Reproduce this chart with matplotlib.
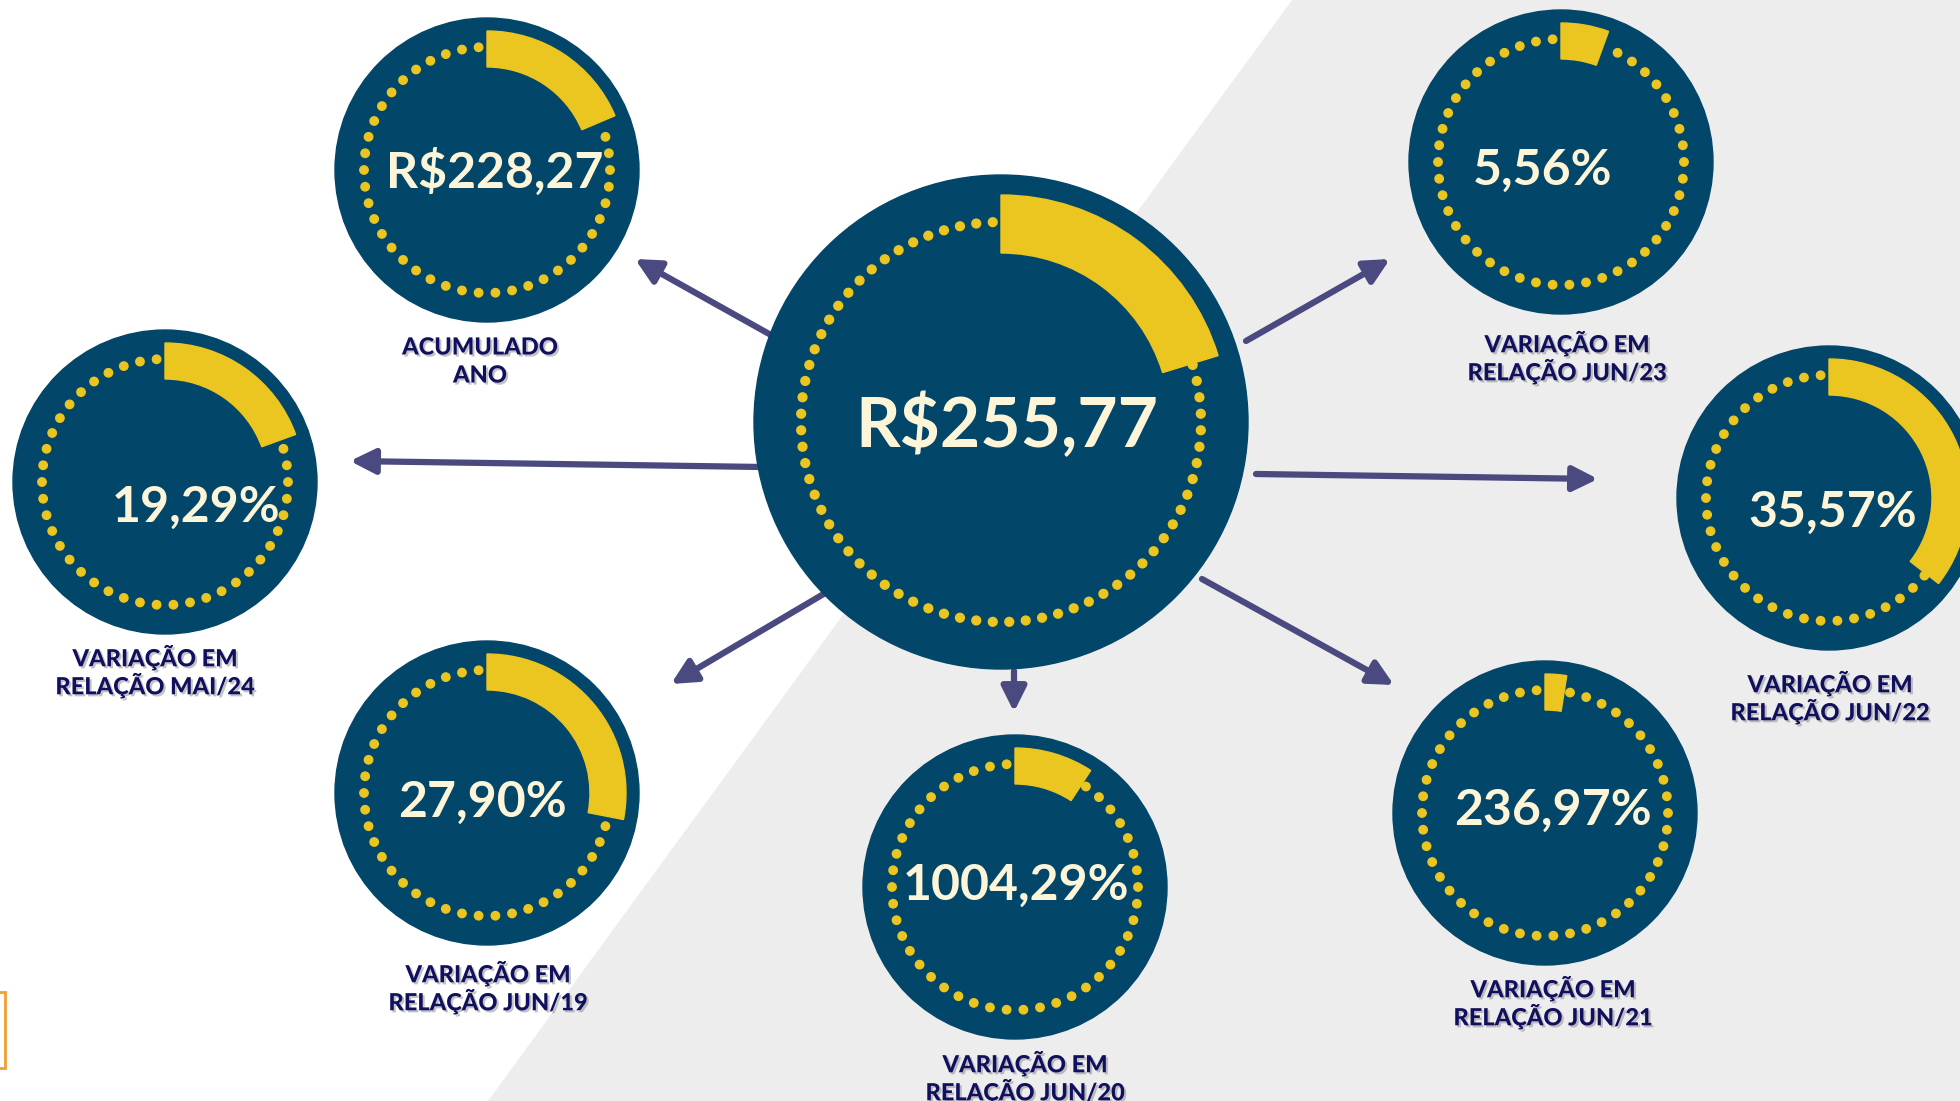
import numpy as np
import matplotlib.pyplot as plt
from matplotlib.patches import Circle, Wedge, Polygon, Rectangle, FancyArrowPatch
import matplotlib.patheffects as pe

#====================== DATA ============================================

values = ["R$255,77", "R$228,27", "19,29%", "27,90%", "1004,29%",
          "236,97%", "35,57%", "5,56%"]
labels = [None, ["ACUMULADO", "ANO"],
          ["VARIAÇÃO EM", "RELAÇÃO MAI/24"],
          ["VARIAÇÃO EM", "RELAÇÃO JUN/19"],
          ["VARIAÇÃO EM", "RELAÇÃO JUN/20"],
          ["VARIAÇÃO EM", "RELAÇÃO JUN/21"],
          ["VARIAÇÃO EM", "RELAÇÃO JUN/22"],
          ["VARIAÇÃO EM", "RELAÇÃO JUN/23"]]
# how far the yellow gauge goes, degrees clockwise from 12 o'clock
gauge_deg = [73, 67, 70, 101, 33, 9, 128, 20]

#====================== LAYOUT (pixels) =================================

cx = [1001, 487, 165, 487, 1015, 1545, 1829, 1561]
cy = [422, 170, 482, 793, 887, 813, 498, 162]
rad = [247, 152, 152, 152, 152, 152, 152, 152]
txt_x = [1007, 495, 196, 482, 1016, 1553, 1833, 1543]
txt_base = [447, 188, 522, 817, 900, 825, 527, 185]
lab_x = [None, 480, 155, 488, 1025, 1553, 1830, 1567]
lab_y = [None, 347, 657, 973, 1063, 988, 683, 343]

# arrows: start, end
arr_start = [(771, 335), (762, 467), (827, 592), (1014, 671),
             (1202, 579), (1256, 474), (1246, 341)]
arr_end = [(635, 259), (350, 461), (671, 684), (1014, 712),
           (1394, 685), (1598, 479), (1390, 259)]

navy = '#02466A'
yellow = '#EBC520'
cream = '#FDF5D8'
labcol = '#10105E'
arrcol = '#4A4A80'

fig = plt.figure(figsize=(19.6, 11.01), dpi=100)
ax = fig.add_axes([0, 0, 1, 1])
ax.set_xlim(0, 1960)
ax.set_ylim(1101, 0)
ax.axis('off')

# background
ax.add_patch(Polygon([(1292, 0), (1960, 0), (1960, 1101), (488, 1101)],
                     closed=True, color='#EDEDED', zorder=0))
ax.add_patch(Rectangle((-50, 992), 55, 76, fill=False,
                       edgecolor='#F0A030', lw=2, zorder=1))

# arrows
for s, e in zip(arr_start, arr_end):
    a = FancyArrowPatch(s, e, arrowstyle='-|>,head_length=15,head_width=7.5',
                        mutation_scale=1, color=arrcol, lw=4.5,
                        shrinkA=0, shrinkB=0, zorder=2)
    ax.add_patch(a)

# gauges
for i in range(len(values)):
    big = i == 0
    r = rad[i]
    ax.add_patch(Circle((cx[i], cy[i]), r, color=navy, zorder=3))
    if big:
        r_dot, n_dot, r_out, w_arc, dot_sz = 200, 76, 227, 58, 4.4
    else:
        r_dot, n_dot, r_out, w_arc, dot_sz = 123, 46, 139, 36, 4.2
    ang = (np.arange(n_dot) + 0.5) * 360 / n_dot
    for a in ang:
        if a < gauge_deg[i]:
            continue
        x = cx[i] + r_dot * np.sin(np.radians(a))
        y = cy[i] - r_dot * np.cos(np.radians(a))
        ax.add_patch(Circle((x, y), dot_sz, color=yellow, zorder=4))
    ax.add_patch(Wedge((cx[i], cy[i]), r_out, -90, gauge_deg[i] - 90,
                       width=w_arc, color=yellow, zorder=5))

    fs = 50 if big else 36
    ax.text(txt_x[i], txt_base[i], values[i], ha='center', va='baseline',
            fontsize=fs, fontfamily='Lato', fontweight='bold', color=cream,
            zorder=6)

    if labels[i] is not None:
        for j, line in enumerate(labels[i]):
            ax.text(lab_x[i], lab_y[i] + 28 * j, line, ha='center', va='center',
                    fontsize=17, fontfamily='Lato', fontweight='black',
                    color=labcol, zorder=6,
                    path_effects=[pe.withSimplePatchShadow(offset=(1.5, -1.5),
                                                           shadow_rgbFace='#888888',
                                                           alpha=0.5)])

fig.savefig('out.png', dpi=100)
